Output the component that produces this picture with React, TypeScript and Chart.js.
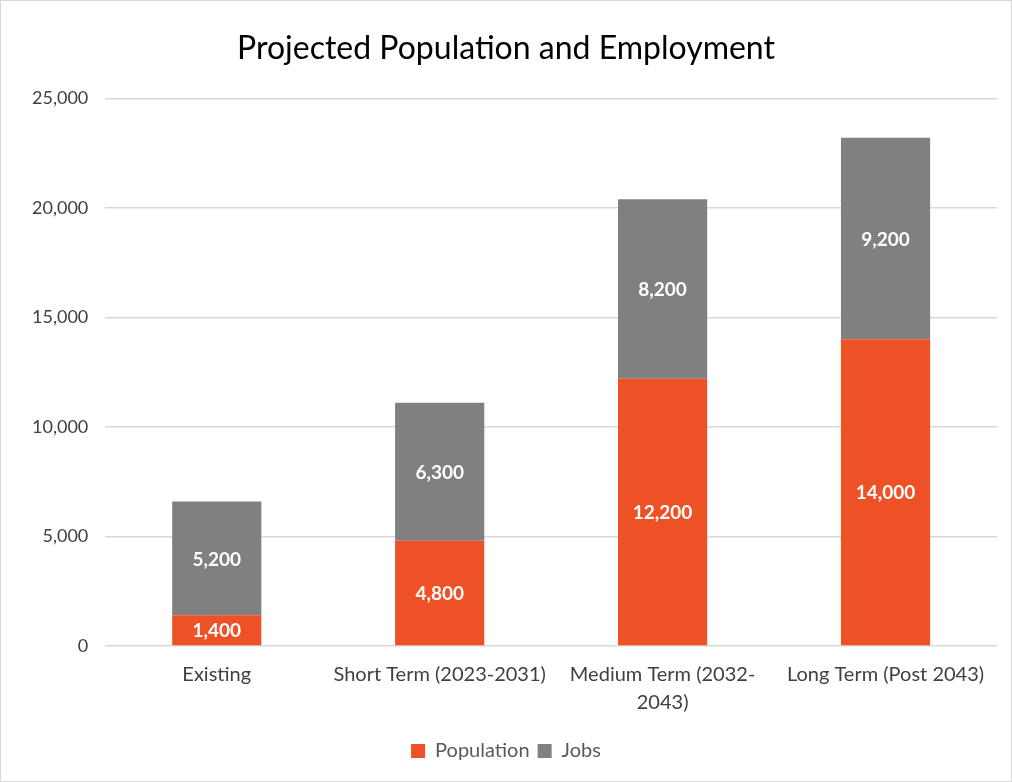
import React, { useEffect, useRef } from "react";
import { Chart, registerables } from "chart.js";

Chart.register(...registerables);

const categories: (string | string[])[] = [
  "Existing",
  "Short Term (2023-2031)",
  ["Medium Term (2032-", "2043)"],
  "Long Term (Post 2043)",
];
const population = [1400, 4800, 12200, 14000];
const jobs = [5200, 6300, 8200, 9200];
const seriesNames = ["Population", "Jobs"];
const seriesColors = ["#EE5125", "#808080"];
const titleText = "Projected Population and Employment";

const FONT = "Lato, 'Open Sans', sans-serif";

const valueLabels = {
  id: "valueLabels",
  afterDatasetsDraw(chart: any) {
    const ctx = chart.ctx;
    ctx.save();
    ctx.fillStyle = "#ffffff";
    ctx.font = `bold 19px ${FONT}`;
    ctx.textAlign = "center";
    ctx.textBaseline = "middle";
    chart.data.datasets.forEach((ds: any, i: number) => {
      const meta = chart.getDatasetMeta(i);
      meta.data.forEach((bar: any, j: number) => {
        const v = ds.data[j];
        const y = (bar.y + bar.base) / 2;
        ctx.fillText(v.toLocaleString("en-US"), bar.x, y + 1);
      });
    });
    ctx.restore();
  },
};

export default function App() {
  const ref = useRef<HTMLCanvasElement | null>(null);
  useEffect(() => {
    document.body.style.margin = "0";
    const chart = new Chart(ref.current!, {
      type: "bar",
      data: {
        labels: categories,
        datasets: [
          { label: seriesNames[0], data: population, backgroundColor: seriesColors[0], categoryPercentage: 1, barPercentage: 0.4 },
          { label: seriesNames[1], data: jobs, backgroundColor: seriesColors[1], categoryPercentage: 1, barPercentage: 0.4 },
        ],
      },
      options: {
        animation: false,
        responsive: false,
        maintainAspectRatio: false,
        layout: { padding: { left: 14, right: 14, top: 14, bottom: 10 } },
        plugins: {
          title: {
            display: true,
            text: titleText,
            color: "#000000",
            font: { family: FONT, size: 32, weight: "normal" },
            padding: { top: 14, bottom: 31 },
          },
          legend: {
            position: "bottom",
            labels: {
              color: "#595959",
              font: { family: FONT, size: 20 },
              boxWidth: 14,
              boxHeight: 14,
              padding: 8,
            },
          },
          tooltip: { enabled: false },
        },
        scales: {
          x: {
            stacked: true,
            grid: { display: false },
            border: { display: false },
            ticks: { color: "#404040", font: { family: FONT, size: 20, lineHeight: 1.4 }, padding: 7, maxRotation: 0 },
            afterFit: (scale: any) => {
              scale.height += 9;
            },
          },
          y: {
            stacked: true,
            min: 0,
            max: 25000,
            ticks: {
              stepSize: 5000,
              color: "#404040",
              font: { family: FONT, size: 18 },
              padding: 17,
              callback: (v: any) => Number(v).toLocaleString("en-US"),
            },
            grid: { color: "#d9d9d9", lineWidth: 1.5, drawTicks: false },
            border: { display: false },
          },
        },
      },
      plugins: [valueLabels],
    });
    return () => chart.destroy();
  }, []);
  return (
    <div style={{ position: "absolute", left: 0, top: 0, width: 1010, height: 780, border: "1px solid #d9d9d9", background: "#fff" }}>
      <canvas ref={ref} width={1010} height={780} />
    </div>
  );
}
